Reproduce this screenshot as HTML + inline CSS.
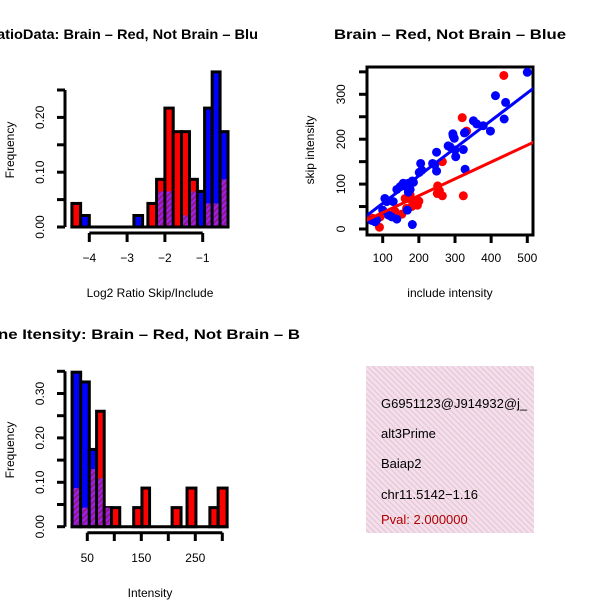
<!DOCTYPE html>
<html><head><meta charset="utf-8"><style>
html,body{margin:0;padding:0;background:#fff}
svg{display:block;font-family:"Liberation Sans",sans-serif}
</style></head><body>
<svg id="c" width="600" height="600" viewBox="0 0 600 600">
<defs>
<pattern id="hatch" width="4" height="4" patternUnits="userSpaceOnUse" patternTransform="rotate(45)">
<rect width="4" height="4" fill="#a020f0"/><rect width="2" height="4" fill="#8b1a8b"/></pattern>
<pattern id="pinkh" width="4" height="4" patternUnits="userSpaceOnUse" patternTransform="rotate(-45)">
<rect width="4" height="4" fill="#f8dcf2"/><rect width="1.2" height="4" fill="#dccfc6"/></pattern>
</defs>
<g id="root"></g>
</svg>
<script>
// ---- Panel 1: ratio histogram ----
const ratioLeft  = [-4.46,-4.23,-2.82,-2.45,-2.22,-2.0,-1.78,-1.56,-1.35,-1.14,-0.95,-0.75,-0.54];
const ratioRight = [-4.23,-4.0,-2.59,-2.22,-2.0,-1.78,-1.56,-1.35,-1.14,-0.95,-0.75,-0.54,-0.33];
const ratioRed   = [0.043,0,0,0.043,0.087,0.217,0.174,0.174,0.087,0,0.043,0.043,0.087];
const ratioBlue  = [0,0.021,0.021,0,0.065,0.065,0,0.021,0.065,0.065,0.217,0.283,0.174];
const ratioXTicks = [-4,-3,-2,-1];
const ratioYTicks = [0,0.05,0.1,0.15,0.2,0.25];
const ratioYLabels = ["0.00","","0.10","","0.20",""];
// ---- Panel 2: scatter ----
const blueInc = [];const blueSkip=[];const redInc=[];const redSkip=[];
const blueZ = [[682,52],[587,122],[617,142],[613,192],[520,197],[530,207],[550,212],[571,228],[495,233],[460,243],[459,237],[463,250],[493,234],[444,273],[450,275],[465,285],[490,284],[467,305],[410,292],[404,330],[410,348],[398,325],[362,325],[365,345],[358,352],[337,378],[340,382],[325,385],[310,385],[305,392],[320,395],[330,403],[325,412],[300,395],[290,403],[280,440],[255,430],[260,440],[248,465],[265,480],[275,485],[290,493],[322,465],[337,508],[230,495],[215,497],[225,500],[495,343]];
const redZ = [[611,62],[487,188],[500,228],[427,320],[413,393],[418,408],[427,423],[412,415],[490,423],[357,438],[343,445],[352,450],[335,455],[325,430],[330,420],[315,430],[305,478],[285,470],[238,517],[240,485],[218,490],[210,490],[320,460]];
blueZ.forEach(p=>{blueInc.push(Math.round(100+(p[0]-248)*0.9217));blueSkip.push(Math.round(0.7426*(522-p[1])));});
redZ.forEach(p=>{redInc.push(Math.round(100+(p[0]-248)*0.9217));redSkip.push(Math.round(0.7426*(522-p[1])));});
// fitted line coefficients [intercept, slope]
const redFit = [-1, 0.3755];
const blueFit = [-4.5, 0.615];
const scatXTicks=[100,200,300,400,500];
const scatYTicks=[0,50,100,150,200,250,300,350];
const scatYLabels=["0","","100","","200","","300",""];
// ---- Panel 3: intensity histogram ----
const intLeft  = [21.8,37.7,53.7,67.2,81.3,94.8,135.9,151.2,207,234.7,277,292.3];
const intRight = [37.7,53.7,67.2,81.3,94.8,110.1,151.2,165.3,223.6,251.2,292.3,308.9];
const intRed   = [0.087,0.043,0.13,0.26,0.043,0.043,0.043,0.087,0.043,0.087,0.043,0.087];
const intBlue  = [0.348,0.326,0.174,0.109,0.043,0,0,0,0,0,0,0];
const intXTicks=[50,100,150,200,250,300];
const intXLabels=["50","","150","","250",""];
const intYTicks=[0,0.05,0.1,0.15,0.2,0.25,0.3,0.35];
const intYLabels=["0.00","","0.10","","0.20","","0.30",""];

const NS="http://www.w3.org/2000/svg";
const root=document.getElementById('root');
function mk(tag,attrs,parent){const e=document.createElementNS(NS,tag);for(const k in attrs)e.setAttribute(k,attrs[k]);(parent||root).appendChild(e);return e;}
function txt(s,x,y,o){const e=mk('text',Object.assign({x:x,y:y,'font-size':13,fill:'#000'},o||{}));e.textContent=s;return e;}
function lin(a,b,c,d){return mk('line',{x1:a,y1:b,x2:c,y2:d,stroke:'#000','stroke-width':3});}

function hist(L,R,red,blue,sx,sy,name){
  for(let i=0;i<L.length;i++){
    const x0=sx(L[i]),x1=sx(R[i]),mn=Math.min(red[i],blue[i]),mx=Math.max(red[i],blue[i]);
    if(mx<=0)continue;
    const col=red[i]>=blue[i]?'#ff0000':'#0000ff';
    const b=mk('rect',{x:x0,y:sy(mx),width:x1-x0,height:sy(0)-sy(mx),fill:col,stroke:'#000','stroke-width':3});
    
    
    if(mn>0){const o=mk('rect',{x:x0+1.5,y:sy(mn),width:x1-x0-3,height:sy(0)-sy(mn)-1.5,fill:'url(#hatch)'});
      
      }
  }
  lin(sx(L[0])-1.5,sy(0),sx(R[R.length-1])+1.5,sy(0));
}

// Panel 1
{
const sx=v=>89.3+(v+4)*37.8, sy=v=>227-v*548;
hist(ratioLeft,ratioRight,ratioRed,ratioBlue,sx,sy,'ratio');
lin(65,sy(0),65,sy(0.25));
ratioYTicks.forEach((t,i)=>{lin(57,sy(t),65,sy(t));if(ratioYLabels[i])txt(ratioYLabels[i],44,sy(t),{transform:`rotate(-90 44 ${sy(t)})`,'text-anchor':'middle','font-size':12});});
lin(sx(-4),233,sx(-1),233);
ratioXTicks.forEach(t=>{lin(sx(t),233,sx(t),242);txt('\u2212'+Math.abs(t),sx(t),262,{'text-anchor':'middle','font-size':12});});
txt('atioData: Brain \u2013 Red, Not Brain \u2013 Blu',-3,39,{'font-weight':'bold','font-size':14,textLength:261,lengthAdjust:'spacingAndGlyphs'});
txt('Log2 Ratio Skip/Include',150,297,{'text-anchor':'middle','font-size':12});
txt('Frequency',14,150,{'text-anchor':'middle','font-size':12,transform:'rotate(-90 14 150)'});
}
// Panel 2
{
const sx=v=>382.7+(v-100)*0.3615, sy=v=>229-v*0.449;
const fr=mk('rect',{x:367,y:67,width:166,height:168,fill:'none',stroke:'#000','stroke-width':3});

const cl=mk('clipPath',{id:'sc'});mk('rect',{x:367,y:67,width:166,height:168},cl);
const g=mk('g',{'clip-path':'url(#sc)'});
redInc.forEach((x,i)=>{const c=mk('circle',{cx:sx(x),cy:sy(redSkip[i]),r:4.5,fill:'#ff0000'},g);
  });
blueInc.forEach((x,i)=>{const c=mk('circle',{cx:sx(x),cy:sy(blueSkip[i]),r:4.5,fill:'#0000ff'},g);
  });
[[redFit,'#ff0000','red-fit-line'],[blueFit,'#0000ff','blue-fit-line']].forEach(s=>{
  const f=s[0];const l=mk('line',{x1:sx(40),y1:sy(f[0]+f[1]*40),x2:sx(540),y2:sy(f[0]+f[1]*540),stroke:s[1],'stroke-width':3},g);
  });
scatYTicks.forEach((t,i)=>{lin(359,sy(t),367,sy(t));if(scatYLabels[i])txt(scatYLabels[i],345,sy(t),{transform:`rotate(-90 345 ${sy(t)})`,'text-anchor':'middle','font-size':12});});
scatXTicks.forEach(t=>{lin(sx(t),235,sx(t),243);txt(String(t),sx(t),262,{'text-anchor':'middle','font-size':12});});
txt('Brain \u2013 Red, Not Brain \u2013 Blue',334,39,{'font-weight':'bold','font-size':14,textLength:232,lengthAdjust:'spacingAndGlyphs'});
txt('include intensity',450,297,{'text-anchor':'middle','font-size':12});
txt('skip intensity',314,150,{'text-anchor':'middle','font-size':12,transform:'rotate(-90 314 150)'});
}
// Panel 3
{
const sx=v=>87.3+(v-50)*0.54, sy=v=>526.7-v*444;
hist(intLeft,intRight,intRed,intBlue,sx,sy,'intensity');
lin(65,sy(0),65,sy(0.35));
intYTicks.forEach((t,i)=>{lin(57,sy(t),65,sy(t));if(intYLabels[i])txt(intYLabels[i],44,sy(t),{transform:`rotate(-90 44 ${sy(t)})`,'text-anchor':'middle','font-size':12});});
lin(sx(50),532.7,sx(300),532.7);
intXTicks.forEach((t,i)=>{lin(sx(t),532.7,sx(t),541);if(intXLabels[i])txt(intXLabels[i],sx(t),562,{'text-anchor':'middle','font-size':12});});
txt('ne Itensity: Brain \u2013 Red, Not Brain \u2013 B',-2,339,{'font-weight':'bold','font-size':14,textLength:302,lengthAdjust:'spacingAndGlyphs'});
txt('Intensity',150,597,{'text-anchor':'middle','font-size':12});
txt('Frequency',14,450,{'text-anchor':'middle','font-size':12,transform:'rotate(-90 14 450)'});
}
// Panel 4: info box
{
const cl=mk('clipPath',{id:'ib'});mk('rect',{x:366,y:366,width:168,height:167},cl);
const b=mk('rect',{x:366,y:366,width:168,height:167,fill:'url(#pinkh)'});

const g=mk('g',{'clip-path':'url(#ib)'});
const lines=[['G6951123@J914932@j_',408,'#000','event-id'],['alt3Prime',438,'#000','event-type'],['Baiap2',468,'#000','gene-name'],['chr11.5142\u22121.16',499,'#000','location'],['Pval: 2.000000',524,'#b00000','pval']];
lines.forEach(l=>{const t=mk('text',{x:381,y:l[1],'font-size':13,fill:l[2]},g);t.textContent=l[0];
  });
}
</script>
</body></html>
